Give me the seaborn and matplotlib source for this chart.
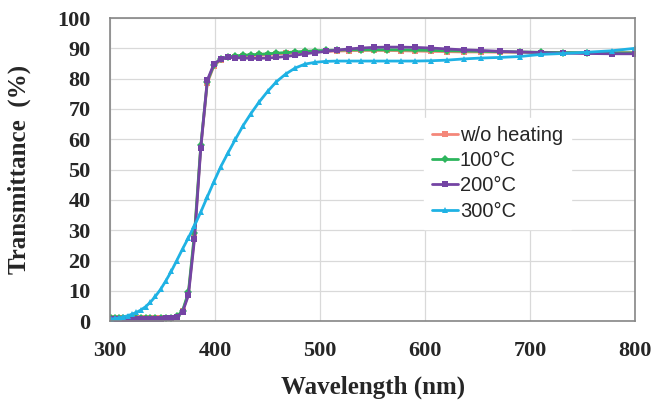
"""
Transmittance spectra of films after different heating temperatures.
"""

import pandas as pd
import matplotlib
matplotlib.use('Agg')
import matplotlib.pyplot as plt
import seaborn as sns


# Wavelength grid (nm)
wavelength = [301.0, 304.8, 308.6, 312.5, 316.6, 320.7, 324.9, 329.3, 333.8, 338.4,
              343.1, 348.0, 353.0, 358.1, 363.4, 368.9, 374.5, 380.3, 386.3, 392.5,
              398.8, 405.4, 412.2, 419.3, 426.6, 434.1, 441.9, 450.0, 458.4, 467.1,
              476.2, 485.6, 495.4, 505.6, 516.2, 527.3, 538.9, 551.0, 563.6, 576.9,
              590.8, 605.3, 620.6, 636.7, 653.7, 671.5, 690.4, 710.4, 731.6, 754.0,
              777.9, 800.0]

# Transmittance (%) per sample
t_no_heat = [0.9, 0.9, 0.9, 0.9, 0.9, 0.9, 0.9, 0.9, 0.9, 0.9,
             0.9, 0.9, 1.0, 1.1, 1.5, 3.2, 9.0, 28.0, 57.5, 78.5,
             84.2, 86.3, 87.0, 87.3, 87.5, 87.6, 87.7, 87.9, 88.1, 88.3,
             88.5, 88.7, 88.9, 89.0, 89.1, 89.2, 89.3, 89.3, 89.3, 89.2,
             89.1, 89.0, 88.9, 88.8, 88.8, 88.7, 88.7, 88.6, 88.6, 88.6,
             88.6, 88.6]
t_100 = [1.0, 1.0, 1.0, 1.0, 1.0, 1.0, 1.0, 1.0, 1.0, 1.0,
         1.0, 1.0, 1.1, 1.2, 1.6, 3.4, 9.5, 29.0, 58.0, 79.0,
         84.5, 86.5, 87.2, 87.5, 87.7, 87.9, 88.0, 88.2, 88.4, 88.6,
         88.8, 89.0, 89.2, 89.3, 89.4, 89.5, 89.5, 89.5, 89.5, 89.5,
         89.4, 89.3, 89.2, 89.1, 89.0, 88.9, 88.8, 88.7, 88.6, 88.5,
         88.5, 88.5]
t_200 = [0.8, 0.8, 0.8, 0.8, 0.8, 0.8, 0.8, 0.8, 0.8, 0.8,
         0.8, 0.8, 0.9, 1.0, 1.4, 3.0, 8.5, 27.0, 57.0, 79.5,
         84.8, 86.5, 87.0, 86.9, 86.8, 86.7, 86.7, 86.8, 87.0, 87.3,
         87.7, 88.2, 88.6, 89.0, 89.4, 89.8, 90.1, 90.3, 90.4, 90.4,
         90.3, 90.1, 89.8, 89.5, 89.3, 89.0, 88.8, 88.6, 88.4, 88.3,
         88.2, 88.2]
t_300 = [0.7, 0.9, 1.1, 1.4, 1.8, 2.3, 2.9, 3.7, 4.8, 6.3,
         8.2, 10.5, 13.3, 16.4, 20.0, 23.8, 27.5, 31.5, 36.0, 41.0,
         46.0, 51.0, 55.5, 60.0, 64.5, 68.5, 72.3, 75.8, 79.0, 81.5,
         83.5, 84.8, 85.4, 85.7, 85.8, 85.8, 85.8, 85.8, 85.8, 85.8,
         85.8, 85.9, 86.1, 86.5, 86.8, 87.0, 87.3, 88.0, 88.3, 88.7,
         89.2, 90.0]

labels = ['w/o heating', '100°C', '200°C', '300°C']
colors = ['#F4877A', '#2DB55D', '#7444A4', '#1FB2E4']
markers = ['s', 'D', 's', '^']

sns.set_style('white')
serif = ['Liberation Serif', 'DejaVu Serif']
sans = ['Liberation Sans', 'DejaVu Sans']

fig, ax = plt.subplots(figsize=(6.52, 4.0), dpi=100)
fig.subplots_adjust(left=0.169, right=0.974, bottom=0.197, top=0.955)

series = [t_no_heat, t_100, t_200, t_300]
for values, label, color, marker in zip(series, labels, colors, markers):
    df = pd.DataFrame({'wavelength': wavelength, 'T': values})
    sns.lineplot(data=df, x='wavelength', y='T', ax=ax, color=color, label=label,
                 marker=marker, markersize=4, markeredgewidth=0, linewidth=2)

ax.set_xlim(300, 800)
ax.set_ylim(0, 100)
ax.set_xticks(range(300, 801, 100))
ax.set_yticks(range(0, 101, 10))
ax.grid(True, color='#D9D9D9', linewidth=0.9)
ax.set_axisbelow(True)
for spine in ax.spines.values():
    spine.set_color('#868686')
    spine.set_linewidth(1.2)

ax.tick_params(direction='in', length=4, color='#555555', width=1, pad=14)
for lbl in ax.get_xticklabels() + ax.get_yticklabels():
    lbl.set_fontfamily(serif)
    lbl.set_fontweight('bold')
    lbl.set_fontsize(16)

ax.set_xlabel('Wavelength (nm)', family=serif, fontweight='bold', fontsize=18)
ax.set_ylabel('Transmittance  (%)', family=serif, fontweight='bold', fontsize=18)
ax.xaxis.set_label_coords(0.5, -0.18)
ax.yaxis.set_label_coords(-0.15, 0.5)

leg = ax.legend(loc='upper left', bbox_to_anchor=(0.578, 0.705), frameon=True,
                framealpha=1, edgecolor='white', fancybox=False,
                handlelength=1.3, handletextpad=0.1, labelspacing=0.32,
                borderpad=0.4, prop={'family': sans, 'size': 14.5})

plt.savefig('out.png', dpi=100)
plt.close()
